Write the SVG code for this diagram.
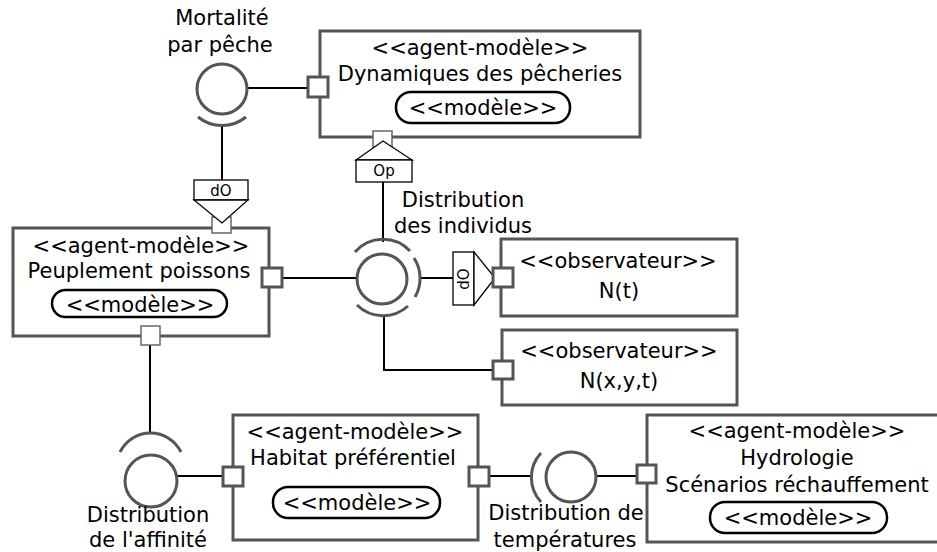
<svg xmlns="http://www.w3.org/2000/svg" width="937" height="552" viewBox="0 0 937 552">
<style>
text{font-family:"DejaVu Sans","Liberation Sans",sans-serif;font-size:21px;fill:#000;text-anchor:middle}
.box{fill:#fff;stroke:#555;stroke-width:3}
.pill{fill:#fff;stroke:#000;stroke-width:2.5}
.port{fill:#fff;stroke:#555;stroke-width:3}
.tport{fill:#fff;stroke:#666;stroke-width:1.5}
.iface{fill:#fff;stroke:#555;stroke-width:3}
.sock{fill:none;stroke:#555;stroke-width:3}
.conn{fill:none;stroke:#000;stroke-width:2}
.dep{fill:#fff;stroke:#000;stroke-width:1.3}
.small{font-size:15px}
</style>
<g id="connectors">
<path class="conn" d="M248,88 H308"/>
<path class="conn" d="M222,124 V180"/>
<path class="conn" d="M383,182 V242"/>
<path class="conn" d="M282,278 H357"/>
<path class="conn" d="M419,278 H453"/>
<path class="conn" d="M384,315 V370 H493"/>
<path class="conn" d="M150,345 V434"/>
<path class="conn" d="M176,476 H223"/>
<path class="conn" d="M489,476 H530"/>
<path class="conn" d="M597,476 H637"/>
</g>
<g id="dynamiques">
<rect class="box" x="320" y="31" width="320" height="106"/>
<text x="480" y="55">&lt;&lt;agent-modèle&gt;&gt;</text>
<text x="480" y="81">Dynamiques des pêcheries</text>
<rect class="pill" x="396" y="92" width="174" height="31" rx="15"/>
<text x="483" y="115">&lt;&lt;modèle&gt;&gt;</text>
<rect class="port" x="308" y="77" width="20" height="20"/>
</g>
<g id="mortalite">
<circle class="iface" cx="222" cy="89" r="25"/>
<path class="sock" d="M198,117 A38,38 0 0 0 246,117"/>
<text x="222" y="25">Mortalité</text>
<text x="220" y="52">par pêche</text>
</g>
<g id="peuplement">
<rect class="box" x="13" y="228" width="256" height="108"/>
<text x="141" y="253">&lt;&lt;agent-modèle&gt;&gt;</text>
<text x="139" y="278">Peuplement poissons</text>
<rect class="pill" x="52" y="290" width="175" height="27" rx="13.5"/>
<text x="140" y="312">&lt;&lt;modèle&gt;&gt;</text>
<rect class="port" x="262" y="268" width="20" height="19"/>
<rect class="tport" x="141" y="326" width="19" height="19"/>
</g>
<g id="dep-do-top">
<rect class="tport" x="212" y="217" width="19" height="16"/>
<rect class="dep" x="194" y="180" width="54" height="20"/>
<polygon class="dep" points="194,200 248,200 222,223"/>
<text class="small" x="221" y="196">dO</text>
</g>
<g id="dep-op">
<rect class="tport" x="373" y="131" width="19" height="16"/>
<polygon class="dep" points="356,160 412,160 383,141"/>
<rect class="dep" x="356" y="160" width="56" height="22"/>
<text class="small" x="384" y="176">Op</text>
</g>
<g id="distribution-individus">
<circle class="iface" cx="382" cy="279" r="25"/>
<path class="sock" d="M355,252 A37,37 0 0 1 410,251"/>
<path class="sock" d="M414,258 A37,37 0 0 1 415,297"/>
<path class="sock" d="M408,306 A37,37 0 0 1 357,305"/>
<text x="463" y="207">Distribution</text>
<text x="463" y="233">des individus</text>
</g>
<g id="dep-do-right">
<rect class="dep" x="453" y="252" width="21" height="53"/>
<polygon class="dep" points="474,252 474,305 495,278"/>
<text class="small" transform="translate(469,279) rotate(-90)">dO</text>
</g>
<g id="obs-nt">
<rect class="box" x="501" y="239" width="236" height="77"/>
<text x="618" y="268">&lt;&lt;observateur&gt;&gt;</text>
<text x="619" y="298">N(t)</text>
<rect class="port" x="493" y="268" width="20" height="19"/>
</g>
<g id="obs-nxyt">
<rect class="box" x="502" y="330" width="235" height="75"/>
<text x="619" y="358">&lt;&lt;observateur&gt;&gt;</text>
<text x="619" y="388">N(x,y,t)</text>
<rect class="port" x="493" y="361" width="20" height="18"/>
</g>
<g id="affinite">
<circle class="iface" cx="151" cy="481" r="26"/>
<path class="sock" d="M120,452 A34,34 0 0 1 181,452"/>
<text x="148" y="522">Distribution</text>
<text x="148" y="547">de l'affinité</text>
</g>
<g id="habitat">
<rect class="box" x="233" y="415" width="245" height="125"/>
<text x="355" y="439">&lt;&lt;agent-modèle&gt;&gt;</text>
<text x="353" y="465">Habitat préférentiel</text>
<rect class="pill" x="273" y="487" width="167" height="31" rx="15"/>
<text x="357" y="510">&lt;&lt;modèle&gt;&gt;</text>
<rect class="port" x="223" y="467" width="20" height="19"/>
<rect class="port" x="469" y="467" width="20" height="19"/>
</g>
<g id="temperatures">
<circle class="iface" cx="571" cy="477" r="25"/>
<path class="sock" d="M541,453 A36,36 0 0 0 541,502"/>
<text x="566" y="520">Distribution de</text>
<text x="565" y="547">températures</text>
</g>
<g id="hydrologie">
<rect class="box" x="647" y="415" width="300" height="127"/>
<text x="797" y="438">&lt;&lt;agent-modèle&gt;&gt;</text>
<text x="797" y="465">Hydrologie</text>
<text x="797" y="492">Scénarios réchauffement</text>
<rect class="pill" x="710" y="502" width="177" height="31" rx="15"/>
<text x="798" y="525">&lt;&lt;modèle&gt;&gt;</text>
<rect class="port" x="637" y="465" width="19" height="18"/>
</g>
</svg>
